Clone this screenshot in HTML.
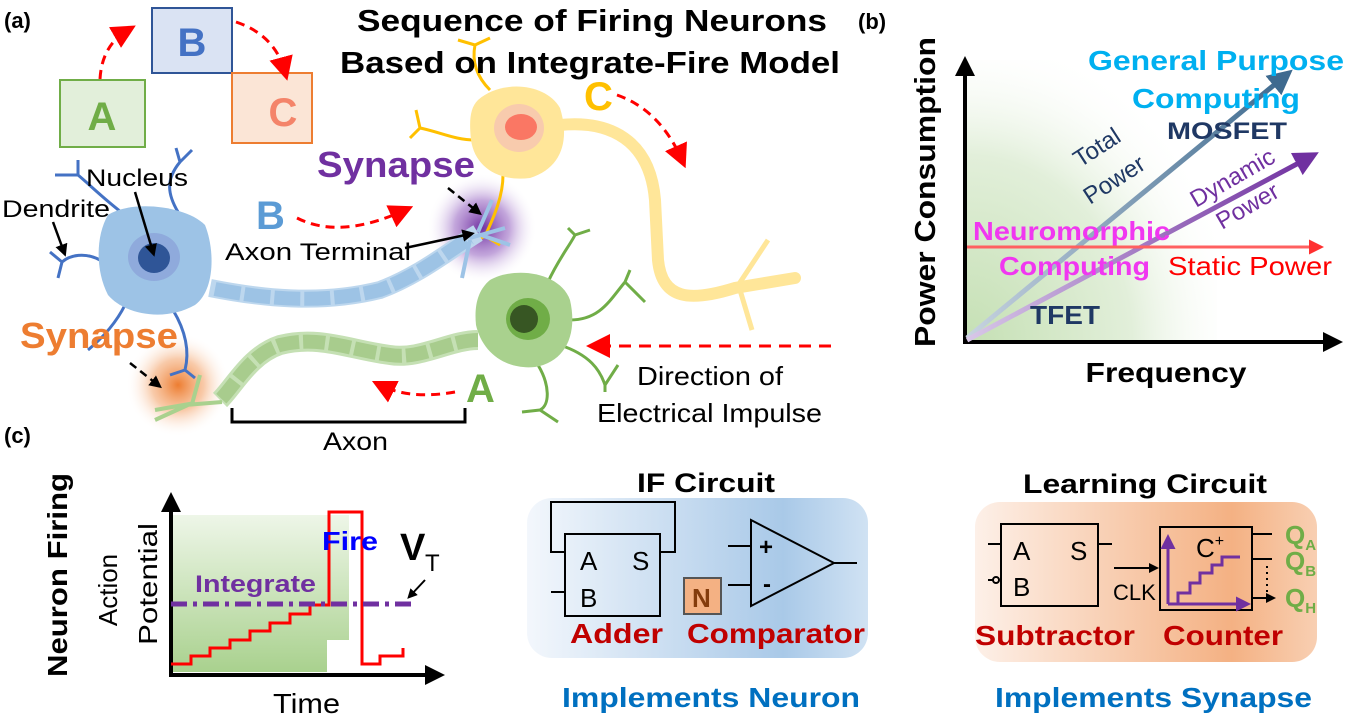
<!DOCTYPE html>
<html><head><meta charset="utf-8"><style>
html,body{margin:0;padding:0;background:#fff;}
svg{display:block;font-family:"Liberation Sans",Arial,sans-serif;}
</style></head><body>
<svg width="1345" height="725" viewBox="0 0 1345 725" xmlns="http://www.w3.org/2000/svg">
<defs>
<marker id="ar" markerWidth="8" markerHeight="8" refX="5" refY="4" orient="auto" markerUnits="strokeWidth"><path d="M0,0 L8,4 L0,8 z" fill="#f00"/></marker>
<marker id="ab" markerWidth="5" markerHeight="5" refX="3" refY="2.5" orient="auto" markerUnits="strokeWidth"><path d="M0,0 L5,2.5 L0,5 z" fill="#000"/></marker>
<marker id="ap" markerWidth="5" markerHeight="5" refX="3" refY="2.5" orient="auto" markerUnits="strokeWidth"><path d="M0,0 L5,2.5 L0,5 z" fill="#7030a0"/></marker>
<marker id="at" markerWidth="5" markerHeight="5" refX="3" refY="2.5" orient="auto" markerUnits="strokeWidth"><path d="M0,0 L5,2.5 L0,5 z" fill="#3e6a8f"/></marker>
<marker id="as" markerWidth="5" markerHeight="5" refX="3" refY="2.5" orient="auto" markerUnits="strokeWidth"><path d="M0,0 L5,2.5 L0,5 z" fill="#ff3030"/></marker>
<radialGradient id="gp"><stop offset="0" stop-color="#7030a0"/><stop offset="0.5" stop-color="#9b6bc4" stop-opacity="0.6"/><stop offset="1" stop-color="#fff" stop-opacity="0"/></radialGradient>
<radialGradient id="go"><stop offset="0" stop-color="#ed7d31"/><stop offset="0.5" stop-color="#f4a770" stop-opacity="0.6"/><stop offset="1" stop-color="#fff" stop-opacity="0"/></radialGradient>
<radialGradient id="gg" cx="0" cy="1" r="1.1"><stop offset="0" stop-color="#c5e0b4"/><stop offset="0.6" stop-color="#e2efda"/><stop offset="1" stop-color="#fff" stop-opacity="0"/></radialGradient>
<linearGradient id="gc" x1="0" x2="0" y1="0" y2="1"><stop offset="0" stop-color="#eef6e8"/><stop offset="1" stop-color="#a9d18e"/></linearGradient>
<linearGradient id="gif" x1="0" x2="1"><stop offset="0" stop-color="#f3f7fc"/><stop offset="0.75" stop-color="#a9c9e8"/><stop offset="1" stop-color="#d0e2f3"/></linearGradient>
<linearGradient id="glc" x1="0" x2="1"><stop offset="0" stop-color="#fdf0e8"/><stop offset="0.75" stop-color="#f4b183"/><stop offset="1" stop-color="#f8cfb2"/></linearGradient>
<linearGradient id="gtp" x1="0" x2="1"><stop offset="0" stop-color="#c8d4e0"/><stop offset="1" stop-color="#3e6a8f"/></linearGradient>
<linearGradient id="gdp" x1="0" x2="1"><stop offset="0" stop-color="#d8c8e8"/><stop offset="1" stop-color="#7030a0"/></linearGradient>
</defs>

<!-- (a) -->
<text x="4" y="28" font-size="22" font-weight="bold">(a)</text>
<rect x="60" y="80" width="85" height="67" fill="#e2efda" stroke="#70ad47" stroke-width="2"/>
<text x="102" y="130" font-size="40" font-weight="bold" fill="#70ad47" text-anchor="middle">A</text>
<rect x="152" y="8" width="80" height="65" fill="#dae3f3" stroke="#2f5597" stroke-width="2"/>
<text x="192" y="56" font-size="40" font-weight="bold" fill="#4472c4" text-anchor="middle">B</text>
<rect x="232" y="73" width="80" height="70" fill="#fbe5d6" stroke="#ed7d31" stroke-width="2"/>
<text x="283" y="126" font-size="40" font-weight="bold" fill="#f4846a" text-anchor="middle">C</text>
<path d="M100,79 Q102,45 128,30" fill="none" stroke="#f00" stroke-width="3" stroke-dasharray="9,6" marker-end="url(#ar)"/>
<path d="M236,22 Q275,35 285,72" fill="none" stroke="#f00" stroke-width="3" stroke-dasharray="9,6" marker-end="url(#ar)"/>

<!-- glows -->
<circle cx="482" cy="228" r="55" fill="url(#gp)"/>
<circle cx="178" cy="385" r="52" fill="url(#go)"/>

<!-- yellow neuron -->
<path d="M560,125 C610,120 650,140 655,200 L658,260 C662,300 690,302 735,288 L795,278" fill="none" stroke="#ffe699" stroke-width="12" stroke-linecap="round"/>
<path d="M735,290 L768,240 M740,290 L752,330" stroke="#ffe699" stroke-width="5" fill="none"/>
<g stroke="#ffc000" stroke-width="3" fill="none">
<path d="M490,90 C475,75 472,60 475,45 M475,45 L458,40 M475,45 L490,38"/>
<path d="M475,140 C455,140 440,132 420,128 M420,128 L410,138 M420,128 L416,110"/>
<path d="M503,175 C503,195 495,215 485,236 M485,236 L478,240 M485,236 L500,245"/>
</g>
<path d="M478,100 C500,80 545,82 560,108 C570,140 562,168 530,178 C500,182 475,168 471,140 C469,120 470,108 478,100 z" fill="#ffe699"/>
<ellipse cx="519" cy="128" rx="25" ry="24" fill="#f8cbad"/>
<ellipse cx="521" cy="127" rx="16" ry="13" fill="#fa7764"/>
<text x="584" y="110" font-size="40" font-weight="bold" fill="#ffc000">C</text>
<path d="M617,95 Q660,110 682,160" fill="none" stroke="#f00" stroke-width="3" stroke-dasharray="9,6" marker-end="url(#ar)"/>
<text x="592" y="31" font-size="31" font-weight="bold" text-anchor="middle" textLength="470" lengthAdjust="spacingAndGlyphs">Sequence of Firing Neurons</text>
<text x="590" y="73" font-size="31" font-weight="bold" text-anchor="middle" textLength="500" lengthAdjust="spacingAndGlyphs">Based on Integrate-Fire Model</text>

<!-- blue neuron -->
<g stroke="#4472c4" stroke-width="3" fill="none">
<path d="M125,215 C105,200 90,185 78,175 M78,175 L55,175 M78,175 L78,160"/>
<path d="M178,212 C168,195 165,180 180,162 M180,162 L192,150 M180,162 L176,148"/>
<path d="M100,260 C85,252 70,255 62,262 M62,262 L50,252 M62,262 L58,278"/>
<path d="M125,305 C115,325 100,340 88,350"/>
<path d="M173,310 C185,330 190,350 185,370 M185,370 L170,375 M185,370 L195,378"/>
</g>
<path d="M108,215 C130,200 185,205 205,225 C215,250 215,290 195,305 C165,322 125,315 108,295 C95,270 96,235 108,215 z" fill="#9dc3e6"/>
<ellipse cx="154" cy="257" rx="26" ry="24" fill="#8faadc"/>
<ellipse cx="154" cy="258" rx="16" ry="15" fill="#2f5597"/>
<!-- blue axon -->
<path d="M210,288 C260,298 320,305 380,290 C420,275 450,250 478,233" fill="none" stroke="#bdd7ee" stroke-width="18"/>
<path d="M215,289 C260,298 320,305 380,290 C420,275 450,250 470,238" fill="none" stroke="#84b2de" stroke-width="14" stroke-dasharray="26,4" opacity="0.55"/>
<path d="M470,238 L505,228 M478,232 L492,200 M478,234 L510,245 M470,240 L462,278" stroke="#9dc3e6" stroke-width="4" fill="none"/>
<text x="86" y="186" font-size="24" textLength="102" lengthAdjust="spacingAndGlyphs">Nucleus</text>
<path d="M135,192 L153,252" stroke="#000" stroke-width="2.5" marker-end="url(#ab)"/>
<text x="2" y="217" font-size="24" textLength="108" lengthAdjust="spacingAndGlyphs">Dendrite</text>
<path d="M53,222 L64,252" stroke="#000" stroke-width="2.5" marker-end="url(#ab)"/>
<text x="256" y="229" font-size="40" font-weight="bold" fill="#5b9bd5">B</text>
<path d="M297,218 Q340,240 405,210" fill="none" stroke="#f00" stroke-width="3" stroke-dasharray="9,6" marker-end="url(#ar)"/>
<text x="225" y="260" font-size="24" textLength="186" lengthAdjust="spacingAndGlyphs">Axon Terminal</text>
<path d="M405,248 L470,234" stroke="#000" stroke-width="2.5" marker-end="url(#ab)"/>
<text x="317" y="177" font-size="36" font-weight="bold" fill="#7030a0" textLength="158" lengthAdjust="spacingAndGlyphs">Synapse</text>
<path d="M448,188 L478,212" stroke="#000" stroke-width="2.5" stroke-dasharray="8,5" marker-end="url(#ab)"/>

<!-- green neuron -->
<g stroke="#70ad47" stroke-width="3" fill="none">
<path d="M548,282 C558,260 570,245 575,235 M575,235 L568,228 M575,235 L590,230"/>
<path d="M570,320 C600,320 610,300 625,282 M625,282 L630,270 M625,282 L645,302"/>
<path d="M560,345 C590,355 600,370 605,385 M605,385 L605,392 M605,385 L618,365"/>
<path d="M538,365 C550,385 550,405 540,410 M540,410 L522,412 M540,410 L558,422"/>
</g>
<path d="M490,280 C515,266 560,272 570,300 C578,335 565,362 535,367 C505,370 482,352 476,325 C474,305 478,290 490,280 z" fill="#a9d18e"/>
<ellipse cx="528" cy="319" rx="22" ry="21" fill="#70ad47"/>
<ellipse cx="524" cy="319" rx="14" ry="14" fill="#375623"/>
<!-- green axon -->
<path d="M478,340 C450,340 420,360 390,355 C350,350 320,335 280,345 C250,355 235,385 220,400" fill="none" stroke="#c5e0b4" stroke-width="20"/>
<path d="M478,340 C450,340 420,360 390,355 C350,350 320,335 280,345 C250,355 235,385 220,400" fill="none" stroke="#8fbc6d" stroke-width="14" stroke-dasharray="22,4" opacity="0.55"/>
<path d="M222,402 L185,405 M195,403 L155,410 M192,404 L200,375 M190,404 L155,420" stroke="#a9d18e" stroke-width="4" fill="none"/>
<text x="20" y="348" font-size="36" font-weight="bold" fill="#ed7d31" textLength="158" lengthAdjust="spacingAndGlyphs">Synapse</text>
<path d="M130,363 L158,385" stroke="#000" stroke-width="2.5" stroke-dasharray="8,5" marker-end="url(#ab)"/>
<path d="M831,346 L595,346" stroke="#f00" stroke-width="3" stroke-dasharray="12,8" marker-end="url(#ar)"/>
<text x="637" y="385" font-size="26" textLength="146" lengthAdjust="spacingAndGlyphs">Direction of</text>
<text x="597" y="422" font-size="26" textLength="225" lengthAdjust="spacingAndGlyphs">Electrical Impulse</text>
<text x="466" y="402" font-size="40" font-weight="bold" fill="#70ad47">A</text>
<path d="M455,392 Q410,400 380,385" fill="none" stroke="#f00" stroke-width="3" stroke-dasharray="9,6" marker-end="url(#ar)"/>
<path d="M232,408 L232,422 L465,422 L465,408" fill="none" stroke="#000" stroke-width="3"/>
<text x="323" y="450" font-size="25" textLength="65" lengthAdjust="spacingAndGlyphs">Axon</text>

<!-- (b) -->
<text x="858" y="29" font-size="22" font-weight="bold">(b)</text>
<rect x="967" y="60" width="250" height="281" fill="url(#gg)"/>
<line x1="965" y1="342" x2="965" y2="75" stroke="#000" stroke-width="4"/>
<path d="M955,76 L965,56 L975,76 z" fill="#000"/>
<line x1="963" y1="342" x2="1325" y2="342" stroke="#000" stroke-width="4"/>
<path d="M1323,332 L1343,342 L1323,352 z" fill="#000"/>
<text transform="translate(935,192) rotate(-90)" font-size="29" font-weight="bold" text-anchor="middle" textLength="310" lengthAdjust="spacingAndGlyphs">Power Consumption</text>
<text x="1166" y="382" font-size="28" font-weight="bold" text-anchor="middle" textLength="161" lengthAdjust="spacingAndGlyphs">Frequency</text>
<line x1="967" y1="338" x2="1285" y2="76" stroke="url(#gtp)" stroke-width="5" marker-end="url(#at)"/>
<line x1="967" y1="340" x2="1310" y2="157" stroke="url(#gdp)" stroke-width="5" marker-end="url(#ap)"/>
<line x1="967" y1="247" x2="1318" y2="247" stroke="#ff6060" stroke-width="3" marker-end="url(#as)"/>
<text x="1088" y="70" font-size="28" font-weight="bold" fill="#00b0f0" textLength="256" lengthAdjust="spacingAndGlyphs">General Purpose</text>
<text x="1132" y="108" font-size="28" font-weight="bold" fill="#00b0f0" textLength="168" lengthAdjust="spacingAndGlyphs">Computing</text>
<text x="1167" y="139" font-size="24" font-weight="bold" fill="#1f3864" textLength="120" lengthAdjust="spacingAndGlyphs">MOSFET</text>
<text transform="translate(1080,168) rotate(-33)" font-size="24" fill="#1f3864">Total</text>
<text transform="translate(1090,205) rotate(-33)" font-size="24" fill="#1f3864">Power</text>
<text transform="translate(1196,208) rotate(-30)" font-size="24" fill="#7030a0">Dynamic</text>
<text transform="translate(1222,230) rotate(-30)" font-size="24" fill="#7030a0">Power</text>
<text x="973" y="240" font-size="26" font-weight="bold" fill="#f037f0" textLength="197" lengthAdjust="spacingAndGlyphs">Neuromorphic</text>
<text x="999" y="275" font-size="26" font-weight="bold" fill="#f037f0" textLength="151" lengthAdjust="spacingAndGlyphs">Computing</text>
<text x="1168" y="275" font-size="26" fill="#f00" textLength="164" lengthAdjust="spacingAndGlyphs">Static Power</text>
<text x="1030" y="324" font-size="26" font-weight="bold" fill="#1f3864" textLength="70" lengthAdjust="spacingAndGlyphs">TFET</text>

<!-- (c) -->
<text x="4" y="443" font-size="22" font-weight="bold">(c)</text>
<text transform="translate(67,575) rotate(-90)" font-size="28" font-weight="bold" text-anchor="middle" textLength="204" lengthAdjust="spacingAndGlyphs">Neuron Firing</text>
<text transform="translate(117,590) rotate(-90)" font-size="26" text-anchor="middle">Action</text>
<text transform="translate(157,584) rotate(-90)" font-size="26" text-anchor="middle" textLength="122" lengthAdjust="spacingAndGlyphs">Potential</text>
<rect x="173" y="515" width="176" height="157" fill="url(#gc)"/>
<rect x="327" y="640" width="22" height="32" fill="#fff"/>
<line x1="171" y1="677" x2="171" y2="510" stroke="#000" stroke-width="4"/>
<path d="M161,512 L171,492 L181,512 z" fill="#000"/>
<line x1="169" y1="675" x2="428" y2="675" stroke="#000" stroke-width="4"/>
<path d="M425,665 L445,675 L425,685 z" fill="#000"/>
<path d="M171,664 L191,664 L191,656 L210,656 L210,648 L230,648 L230,640 L250,640 L250,631 L270,631 L270,623 L290,623 L290,614 L310,614 L310,605 L329,605 L329,512 L362,512 L362,664 L380,664 L380,656 L403,656 L403,648" fill="none" stroke="#f00" stroke-width="3"/>
<line x1="171" y1="604" x2="415" y2="604" stroke="#7030a0" stroke-width="5" stroke-dasharray="16,6,4,6"/>
<text x="322" y="550" font-size="26" font-weight="bold" fill="#0000ff" textLength="56" lengthAdjust="spacingAndGlyphs">Fire</text>
<text x="195" y="592" font-size="24" font-weight="bold" fill="#7030a0" textLength="121" lengthAdjust="spacingAndGlyphs">Integrate</text>
<text x="400" y="560" font-size="38" font-weight="bold">V</text>
<text x="425" y="571" font-size="24">T</text>
<path d="M425,580 L410,596" stroke="#000" stroke-width="2" marker-end="url(#ab)"/>
<text x="273" y="713" font-size="28" textLength="67" lengthAdjust="spacingAndGlyphs">Time</text>

<!-- IF circuit -->
<text x="637" y="492" font-size="27" font-weight="bold" textLength="138" lengthAdjust="spacingAndGlyphs">IF Circuit</text>
<rect x="527" y="498" width="341" height="160" rx="25" fill="url(#gif)"/>
<g stroke="#000" stroke-width="2" fill="none">
<path d="M565,552 L551,552 L551,502 L675,502 L675,552 L660,552"/>
<rect x="565" y="534" width="95" height="82"/>
<path d="M551,592 L565,592"/>
<path d="M751,520 L834,563 L751,606 z"/>
<path d="M728,546 L751,546 M728,585 L751,585 M834,563 L857,563"/>
<rect x="684" y="578" width="37" height="36" fill="#f4b183" stroke="#555"/>
</g>
<text x="580" y="570" font-size="26">A</text><text x="632" y="570" font-size="26">S</text>
<text x="580" y="607" font-size="26">B</text>
<text x="759" y="555" font-size="24" font-weight="bold">+</text>
<text x="763" y="592" font-size="24" font-weight="bold">-</text>
<text x="692" y="607" font-size="26" font-weight="bold" fill="#843c0c">N</text>
<text x="570" y="643" font-size="28" font-weight="bold" fill="#c00000" textLength="93" lengthAdjust="spacingAndGlyphs">Adder</text>
<text x="687" y="643" font-size="28" font-weight="bold" fill="#c00000" textLength="178" lengthAdjust="spacingAndGlyphs">Comparator</text>
<text x="562" y="707" font-size="28" font-weight="bold" fill="#0070c0" textLength="298" lengthAdjust="spacingAndGlyphs">Implements Neuron</text>

<!-- Learning circuit -->
<text x="1023" y="493" font-size="27" font-weight="bold" textLength="244" lengthAdjust="spacingAndGlyphs">Learning Circuit</text>
<rect x="975" y="502" width="342" height="160" rx="25" fill="url(#glc)"/>
<g stroke="#000" stroke-width="2" fill="none">
<rect x="1001" y="524" width="97" height="82"/>
<path d="M988,544 L1001,544 M1098,544 L1112,544 M988,580 L993,580"/>
<circle cx="996" cy="580" r="3"/>
<rect x="1160" y="527" width="92" height="83"/>
<path d="M1114,568 L1155,568" marker-end="url(#ab)"/>
<path d="M1252,534 L1272,534 M1252,559 L1272,559 M1252,598 L1272,598" marker-end="url(#ab)"/>
<path d="M1267,566 L1267,592" stroke-dasharray="2,4"/>
</g>
<text x="1013" y="560" font-size="26">A</text><text x="1070" y="560" font-size="26">S</text>
<text x="1013" y="596" font-size="26">B</text>
<text x="1113" y="600" font-size="22">CLK</text>
<text x="1196" y="557" font-size="26">C<tspan font-size="16" dy="-11">+</tspan></text>
<path d="M1168,604 L1168,540 M1168,604 L1245,604" stroke="#7030a0" stroke-width="3" fill="none" marker-end="url(#ap)"/>
<path d="M1168,604 L1168,540" stroke="#7030a0" stroke-width="3" fill="none" marker-end="url(#ap)"/>
<path d="M1178,604 L1178,593 L1190,593 L1190,583 L1200,583 L1200,573 L1212,573 L1212,565 L1222,565 L1222,557 L1240,557" stroke="#7030a0" stroke-width="3" fill="none"/>
<text x="1285" y="544" font-size="26" font-weight="bold" fill="#70ad47">Q<tspan font-size="15" dy="6">A</tspan></text>
<text x="1285" y="570" font-size="26" font-weight="bold" fill="#70ad47">Q<tspan font-size="15" dy="6">B</tspan></text>
<text x="1285" y="607" font-size="26" font-weight="bold" fill="#70ad47">Q<tspan font-size="15" dy="6">H</tspan></text>
<text x="975" y="645" font-size="28" font-weight="bold" fill="#c00000" textLength="160" lengthAdjust="spacingAndGlyphs">Subtractor</text>
<text x="1163" y="645" font-size="28" font-weight="bold" fill="#c00000" textLength="120" lengthAdjust="spacingAndGlyphs">Counter</text>
<text x="995" y="707" font-size="28" font-weight="bold" fill="#0070c0" textLength="317" lengthAdjust="spacingAndGlyphs">Implements Synapse</text>
</svg>
</body></html>
